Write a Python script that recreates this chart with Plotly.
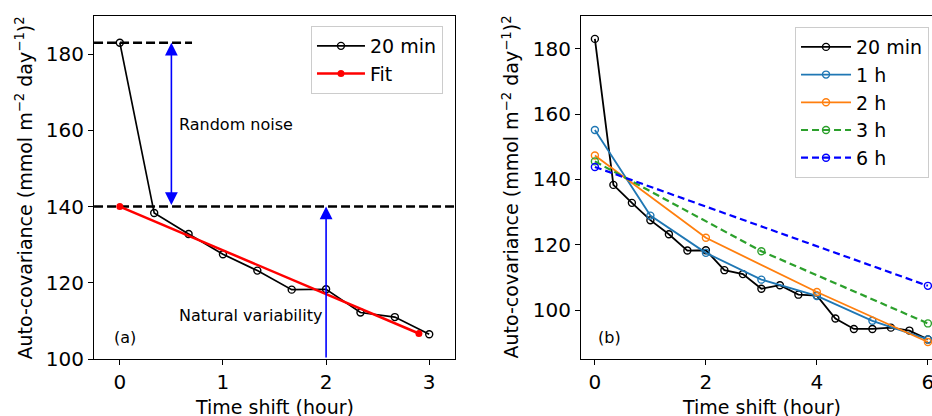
import plotly.graph_objects as go

# ---------------- data ----------------
lag_20min = [0, 1/3, 2/3, 1, 4/3, 5/3, 2, 7/3, 8/3, 3,
             10/3, 11/3, 4, 13/3, 14/3, 5, 16/3, 17/3, 6]
cov_20min = [183.0, 138.3, 132.8, 127.5, 123.2, 118.2, 118.3, 112.2, 111.0, 106.5,
             107.6, 104.7, 104.4, 97.4, 94.2, 94.2, 94.6, 93.7, 91.0]

fit_x = [0, 2.9]
fit_y = [140.0, 106.7]

lag_1h = [0, 1, 2, 3, 4, 5, 6]
cov_1h = [155.1, 128.9, 117.5, 109.3, 104.3, 96.7, 91.0]
lag_2h = [0, 2, 4, 6]
cov_2h = [147.3, 122.1, 105.5, 90.2]
lag_3h = [0, 3, 6]
cov_3h = [145.5, 118.0, 95.9]
lag_6h = [0, 6]
cov_6h = [143.8, 107.4]

noise_top = 183.0
natural_level = 140.0
noise_line_x = [-0.25, 0.7]
natural_line_x = [-0.25, 3.25]
noise_arrow_x = 0.5
natural_arrow_x = 2.0
natural_arrow_base = 100.0

xticks_a = [0, 1, 2, 3]
xticks_b = [0, 2, 4, 6]
yticks = [100, 120, 140, 160, 180]

FONT = "DejaVu Sans"
ytitle = "Auto-covariance (mmol m<sup>\u22122</sup> day<sup>\u22121</sup>)<sup>2</sup>"
xtitle = "Time shift (hour)"

fig = go.Figure()

# ---------------- panel (a) ----------------
fig.add_trace(go.Scatter(x=noise_line_x, y=[noise_top, noise_top], mode="lines",
                         line=dict(color="black", width=2.5, dash="9px,4px"),
                         showlegend=False, hoverinfo="skip", xaxis="x", yaxis="y"))
fig.add_trace(go.Scatter(x=natural_line_x, y=[natural_level, natural_level], mode="lines",
                         line=dict(color="black", width=2.5, dash="9px,4px"),
                         showlegend=False, hoverinfo="skip", xaxis="x", yaxis="y"))
n_a = 10
fig.add_trace(go.Scatter(x=lag_20min[:n_a], y=cov_20min[:n_a], mode="lines+markers",
                         name="20 min", legend="legend", legendgroup="a1",
                         line=dict(color="black", width=1.7),
                         marker=dict(symbol="circle-open", size=7, color="black",
                                     line=dict(width=1.4)),
                         xaxis="x", yaxis="y"))
fig.add_trace(go.Scatter(x=fit_x, y=fit_y, mode="lines+markers", name="Fit",
                         legend="legend", legendgroup="a2",
                         line=dict(color="red", width=2.5),
                         marker=dict(symbol="circle", size=7, color="red"),
                         xaxis="x", yaxis="y"))

# ---------------- panel (b) ----------------
series_b = [
    ("20 min", lag_20min, cov_20min, "black", "solid"),
    ("1 h", lag_1h, cov_1h, "#1f77b4", "solid"),
    ("2 h", lag_2h, cov_2h, "#ff7f0e", "solid"),
    ("3 h", lag_3h, cov_3h, "#2ca02c", "7px,4px"),
    ("6 h", lag_6h, cov_6h, "#0000ff", "7px,4px"),
]
for i, (nm, xs, ys, col, dash) in enumerate(series_b):
    fig.add_trace(go.Scatter(x=xs, y=ys, mode="lines+markers", name=nm,
                             legend="legend2", legendgroup="b%d" % i,
                             line=dict(color=col, width=1.8 if dash == "solid" else 2.2, dash=dash),
                             marker=dict(symbol="circle-open", size=7, color=col,
                                         line=dict(width=1.4)),
                             xaxis="x2", yaxis="y2"))

axis_common = dict(showgrid=False, zeroline=False, showline=True, linecolor="black",
                   linewidth=1.2, ticks="outside", ticklen=5, tickwidth=1.1,
                   tickcolor="black", automargin=False, ticklabeloverflow="allow",
                   tickfont=dict(family=FONT, size=20, color="black"))

fig.update_layout(
    width=932, height=416,
    margin=dict(l=0, r=0, t=0, b=0, autoexpand=False),
    paper_bgcolor="white", plot_bgcolor="white",
    font=dict(family=FONT, size=19, color="black"),
    xaxis=dict(domain=[0.1009, 0.4882], range=[-0.25, 3.25], tickvals=xticks_a,
               mirror=True, anchor="y", **axis_common),
    yaxis=dict(domain=[0.137, 0.9615], range=[100, 190], tickvals=yticks,
               mirror=True, anchor="x", **axis_common),
    xaxis2=dict(domain=[0.6234, 1.0], range=[-0.25, 6.074], tickvals=xticks_b,
                mirror=True, anchor="y2", **axis_common),
    yaxis2=dict(domain=[0.137, 0.9615], range=[85, 190], tickvals=yticks,
                mirror=False, anchor="x2", **axis_common),
    legend=dict(x=0.4753, xanchor="right", y=0.9375, yanchor="top",
                bgcolor="rgba(255,255,255,0.8)", bordercolor="#cccccc", borderwidth=1,
                font=dict(family=FONT, size=19), itemwidth=48, tracegroupgap=0),
    legend2=dict(x=0.9968, xanchor="right", y=0.935, yanchor="top",
                 bgcolor="rgba(255,255,255,0.8)", bordercolor="#cccccc", borderwidth=1,
                 font=dict(family=FONT, size=19), itemwidth=50, tracegroupgap=0),
    showlegend=True,
)

# axis titles (placed as annotations for exact positioning)
for xc in (0.2945, 0.817):
    fig.add_annotation(x=xc, y=0.0216, xref="paper", yref="paper", text=xtitle,
                       showarrow=False, xanchor="center", yanchor="middle",
                       font=dict(family=FONT, size=19, color="black"))
for xc in (0.0268, 0.5483):
    fig.add_annotation(x=xc, y=0.5493, xref="paper", yref="paper", text=ytitle,
                       textangle=-90, showarrow=False, xanchor="center", yanchor="middle",
                       font=dict(family=FONT, size=19, color="black"))

# arrows
fig.add_annotation(x=noise_arrow_x, y=noise_top, ax=noise_arrow_x, ay=natural_level,
                   xref="x", yref="y", axref="x", ayref="y", text="", showarrow=True,
                   arrowhead=2, startarrowhead=2, arrowside="end+start",
                   arrowsize=1.6, startarrowsize=1.6, arrowwidth=1.6, arrowcolor="blue",
                   standoff=0, startstandoff=0)
fig.add_annotation(x=natural_arrow_x, y=natural_level, ax=natural_arrow_x, ay=natural_arrow_base,
                   xref="x", yref="y", axref="x", ayref="y", text="", showarrow=True,
                   arrowhead=2, arrowsize=1.6, arrowwidth=1.6, arrowcolor="blue",
                   standoff=0)

# labels
fig.add_annotation(x=0.55, y=161.5, xref="x", yref="y", text="Random noise",
                   showarrow=False, xanchor="left", yanchor="middle",
                   font=dict(family=FONT, size=16, color="black"))
fig.add_annotation(x=0.55, y=111.5, xref="x", yref="y", text="Natural variability",
                   showarrow=False, xanchor="left", yanchor="middle",
                   font=dict(family=FONT, size=16, color="black"))
fig.add_annotation(x=0.049, y=0.062, xref="x domain", yref="y domain", text="(a)",
                   showarrow=False, xanchor="left", yanchor="middle",
                   font=dict(family=FONT, size=16, color="black"))
fig.add_annotation(x=0.043, y=0.064, xref="x2 domain", yref="y2 domain", text="(b)",
                   showarrow=False, xanchor="left", yanchor="middle",
                   font=dict(family=FONT, size=16, color="black"))

fig.write_html("out.html", config={"displayModeBar": False},
               post_script="document.body.style.margin='0';document.body.style.overflow='hidden';")
